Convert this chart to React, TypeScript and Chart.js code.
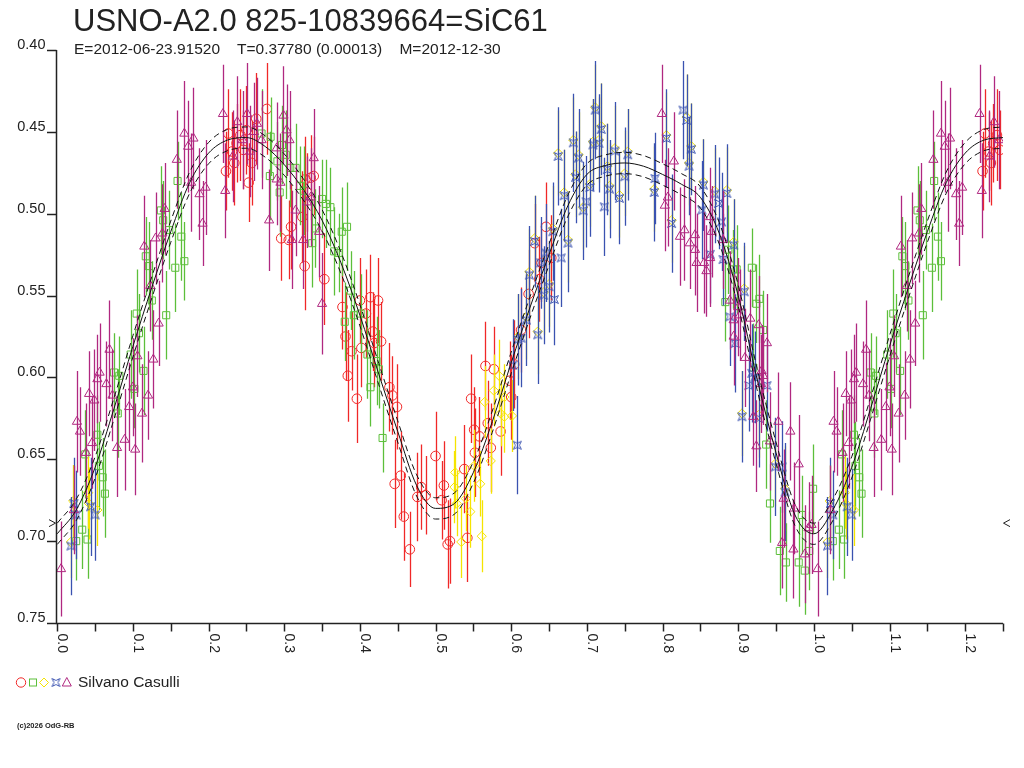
import { useEffect, useRef } from "react";
import { Chart, registerables } from "chart.js";

Chart.register(...registerables);

const TITLE = "USNO-A2.0 825-10839664=SiC61";
const SUBTITLE = "E=2012-06-23.91520    T=0.37780 (0.00013)    M=2012-12-30";
const OBSERVER = "Silvano Casulli";
const CREDIT = "(c)2026 OdG-RB";

const xTicks = [
  0, 0.05, 0.1, 0.15, 0.2, 0.25, 0.3, 0.35, 0.4, 0.45, 0.5, 0.55, 0.6, 0.65,
  0.7, 0.75, 0.8, 0.85, 0.9, 0.95, 1.0, 1.05, 1.1, 1.15, 1.2, 1.25,
];
const xLabelValues = [0, 0.1, 0.2, 0.3, 0.4, 0.5, 0.6, 0.7, 0.8, 0.9, 1.0, 1.1, 1.2];
const xLabelText = ["0.0", "0.1", "0.2", "0.3", "0.4", "0.5", "0.6", "0.7", "0.8", "0.9", "1.0", "1.1", "1.2"];
const yTicks = [0.4, 0.45, 0.5, 0.55, 0.6, 0.65, 0.7, 0.75];
const yLabelText = ["0.40", "0.45", "0.50", "0.55", "0.60", "0.65", "0.70", "0.75"];

// level marked with > and < on both sides of the plot
const REF_LEVEL = 0.689;

// phase, magnitude, error
type Obs = [number, number, number];

const redObs: Obs[] = [
  [0.223, 0.474, 0.024], [0.226, 0.451, 0.027], [0.231, 0.462, 0.024], [0.234, 0.469, 0.026],
  [0.237, 0.457, 0.024], [0.242, 0.452, 0.028], [0.246, 0.461, 0.024], [0.25, 0.449, 0.027],
  [0.253, 0.481, 0.024], [0.257, 0.469, 0.026], [0.263, 0.442, 0.028], [0.277, 0.436, 0.028],
  [0.296, 0.515, 0.026], [0.306, 0.516, 0.024], [0.309, 0.508, 0.026], [0.324, 0.502, 0.028],
  [0.327, 0.532, 0.027], [0.328, 0.479, 0.026], [0.33, 0.487, 0.024], [0.335, 0.478, 0.026],
  [0.339, 0.477, 0.024], [0.353, 0.54, 0.028], [0.377, 0.557, 0.026], [0.381, 0.575, 0.027],
  [0.384, 0.599, 0.028], [0.389, 0.584, 0.024], [0.396, 0.613, 0.027], [0.4, 0.553, 0.026],
  [0.402, 0.582, 0.024], [0.408, 0.561, 0.027], [0.414, 0.551, 0.026], [0.417, 0.572, 0.024],
  [0.419, 0.579, 0.027], [0.424, 0.553, 0.026], [0.428, 0.578, 0.024], [0.439, 0.606, 0.027],
  [0.443, 0.611, 0.024], [0.446, 0.665, 0.027], [0.449, 0.618, 0.026], [0.454, 0.66, 0.027],
  [0.458, 0.685, 0.027], [0.466, 0.705, 0.023], [0.476, 0.673, 0.027], [0.481, 0.667, 0.026],
  [0.487, 0.672, 0.024], [0.5, 0.648, 0.027], [0.508, 0.675, 0.024], [0.511, 0.666, 0.027],
  [0.516, 0.702, 0.027], [0.519, 0.7, 0.026], [0.538, 0.656, 0.027], [0.542, 0.698, 0.027],
  [0.547, 0.613, 0.027], [0.551, 0.632, 0.026], [0.552, 0.646, 0.027], [0.558, 0.636, 0.024],
  [0.566, 0.593, 0.027], [0.569, 0.628, 0.026], [0.573, 0.643, 0.027], [0.577, 0.595, 0.026],
  [0.586, 0.633, 0.027], [0.598, 0.602, 0.024], [0.6, 0.612, 0.026], [0.604, 0.592, 0.027],
  [0.613, 0.571, 0.026], [0.623, 0.549, 0.027], [0.631, 0.518, 0.024], [0.637, 0.54, 0.026],
  [0.64, 0.53, 0.024], [0.646, 0.508, 0.027], [0.653, 0.527, 0.026],
];

const greenObs: Obs[] = [
  [0.025, 0.7, 0.024], [0.033, 0.693, 0.024], [0.037, 0.647, 0.027], [0.04, 0.699, 0.024],
  [0.053, 0.635, 0.024], [0.055, 0.654, 0.027], [0.06, 0.661, 0.024], [0.063, 0.671, 0.027],
  [0.075, 0.597, 0.024], [0.08, 0.622, 0.027], [0.082, 0.599, 0.024], [0.097, 0.586, 0.027],
  [0.102, 0.607, 0.024], [0.105, 0.561, 0.027], [0.108, 0.573, 0.024], [0.114, 0.596, 0.027],
  [0.117, 0.526, 0.024], [0.121, 0.532, 0.027], [0.125, 0.553, 0.024], [0.137, 0.498, 0.027],
  [0.14, 0.504, 0.024], [0.144, 0.562, 0.027], [0.148, 0.51, 0.024], [0.156, 0.533, 0.027],
  [0.159, 0.48, 0.024], [0.164, 0.514, 0.027], [0.168, 0.529, 0.024],
  [0.27, 0.451, 0.027], [0.281, 0.477, 0.027], [0.282, 0.453, 0.024], [0.291, 0.468, 0.024],
  [0.294, 0.487, 0.027], [0.297, 0.458, 0.024], [0.302, 0.464, 0.027], [0.308, 0.472, 0.024],
  [0.315, 0.472, 0.027], [0.321, 0.483, 0.024], [0.326, 0.486, 0.027], [0.337, 0.518, 0.027],
  [0.341, 0.509, 0.024], [0.35, 0.491, 0.024], [0.355, 0.494, 0.027], [0.361, 0.496, 0.024],
  [0.366, 0.523, 0.027], [0.372, 0.524, 0.024], [0.376, 0.511, 0.027], [0.38, 0.566, 0.024],
  [0.383, 0.508, 0.027], [0.388, 0.547, 0.024], [0.392, 0.562, 0.027], [0.401, 0.561, 0.024],
  [0.41, 0.586, 0.027], [0.414, 0.606, 0.024], [0.422, 0.59, 0.027], [0.425, 0.595, 0.024],
  [0.43, 0.637, 0.021],
  [0.883, 0.554, 0.024], [0.887, 0.522, 0.027], [0.893, 0.534, 0.024], [0.898, 0.534, 0.027],
  [0.918, 0.533, 0.024], [0.92, 0.594, 0.027], [0.924, 0.555, 0.024], [0.928, 0.552, 0.027],
  [0.933, 0.571, 0.024], [0.937, 0.641, 0.027], [0.942, 0.677, 0.024], [0.955, 0.706, 0.027],
  [0.963, 0.713, 0.024], [0.98, 0.713, 0.027], [0.984, 0.684, 0.024], [0.988, 0.718, 0.027],
  [0.994, 0.706, 0.024], [0.999, 0.668, 0.027],
];

const yellowObs: Obs[] = [
  [0.018, 0.7005, 0.022], [0.021, 0.6755, 0.022], [0.041, 0.6704, 0.022], [0.042, 0.677, 0.022],
  [0.053, 0.681, 0.022],
  [0.525, 0.667, 0.022], [0.526, 0.658, 0.022], [0.528, 0.677, 0.02], [0.534, 0.7005, 0.022],
  [0.54, 0.674, 0.02], [0.546, 0.682, 0.022], [0.551, 0.654, 0.022], [0.559, 0.665, 0.02],
  [0.561, 0.697, 0.022], [0.565, 0.615, 0.022], [0.573, 0.651, 0.02], [0.577, 0.608, 0.022],
  [0.584, 0.599, 0.022], [0.586, 0.622, 0.02], [0.591, 0.624, 0.022], [0.591, 0.612, 0.02],
  [0.601, 0.6235, 0.022],
  [0.609, 0.575, 0.026], [0.62, 0.563, 0.026], [0.624, 0.5355, 0.026], [0.631, 0.515, 0.026],
  [0.635, 0.572, 0.026], [0.643, 0.548, 0.026], [0.65, 0.543, 0.026], [0.655, 0.509, 0.026],
  [0.662, 0.463, 0.026], [0.67, 0.487, 0.026], [0.675, 0.516, 0.026], [0.682, 0.455, 0.026],
  [0.685, 0.476, 0.026], [0.689, 0.464, 0.026], [0.695, 0.496, 0.026], [0.704, 0.482, 0.026],
  [0.708, 0.456, 0.026], [0.711, 0.435, 0.026], [0.716, 0.455, 0.026], [0.719, 0.4465, 0.026],
  [0.727, 0.471, 0.026], [0.73, 0.483, 0.026], [0.737, 0.46, 0.026], [0.743, 0.4886, 0.026],
  [0.75, 0.4754, 0.026], [0.754, 0.462, 0.026], [0.789, 0.485, 0.026], [0.805, 0.452, 0.026],
  [0.812, 0.504, 0.026], [0.832, 0.441, 0.026], [0.835, 0.469, 0.026], [0.838, 0.4587, 0.026],
  [0.854, 0.4805, 0.026], [0.869, 0.486, 0.026], [0.885, 0.4856, 0.026], [0.894, 0.5172, 0.026],
  [0.905, 0.622, 0.026], [0.908, 0.5457, 0.026], [0.927, 0.623, 0.026], [0.949, 0.6527, 0.026],
  [0.962, 0.668, 0.026],
];

const blueObs: Obs[] = [
  [0.018, 0.703, 0.03], [0.022, 0.677, 0.028], [0.025, 0.684, 0.027], [0.044, 0.679, 0.03],
  [0.05, 0.684, 0.028],
  [0.602, 0.5925, 0.028], [0.608, 0.6414, 0.03], [0.609, 0.577, 0.028], [0.613, 0.576, 0.03],
  [0.62, 0.565, 0.028], [0.624, 0.5375, 0.03], [0.631, 0.517, 0.028], [0.635, 0.574, 0.03],
  [0.639, 0.53, 0.028], [0.643, 0.5498, 0.03], [0.646, 0.524, 0.03], [0.65, 0.5446, 0.028],
  [0.655, 0.511, 0.03], [0.657, 0.5524, 0.028], [0.662, 0.465, 0.03], [0.666, 0.527, 0.03],
  [0.67, 0.489, 0.028], [0.675, 0.518, 0.03], [0.682, 0.4567, 0.03], [0.685, 0.4778, 0.028],
  [0.689, 0.466, 0.03], [0.695, 0.4982, 0.03], [0.699, 0.4927, 0.028], [0.704, 0.484, 0.03],
  [0.708, 0.458, 0.028], [0.711, 0.4367, 0.03], [0.716, 0.457, 0.03], [0.719, 0.4485, 0.028],
  [0.723, 0.4958, 0.03], [0.727, 0.473, 0.028], [0.73, 0.485, 0.03], [0.737, 0.4617, 0.03],
  [0.743, 0.4906, 0.028], [0.75, 0.4774, 0.03], [0.754, 0.464, 0.028], [0.789, 0.487, 0.03],
  [0.79, 0.4785, 0.028], [0.805, 0.454, 0.03], [0.812, 0.506, 0.03], [0.827, 0.4367, 0.03],
  [0.832, 0.443, 0.028], [0.835, 0.471, 0.03], [0.838, 0.4607, 0.028], [0.852, 0.4978, 0.03],
  [0.854, 0.4825, 0.028], [0.863, 0.5248, 0.03], [0.869, 0.488, 0.03], [0.874, 0.4937, 0.028],
  [0.878, 0.505, 0.03], [0.88, 0.528, 0.028], [0.885, 0.4876, 0.03], [0.889, 0.563, 0.03],
  [0.894, 0.5192, 0.028], [0.896, 0.5792, 0.03], [0.905, 0.624, 0.028], [0.908, 0.5477, 0.03],
  [0.914, 0.605, 0.028], [0.918, 0.5975, 0.03], [0.922, 0.6, 0.028], [0.927, 0.625, 0.03],
  [0.938, 0.605, 0.028], [0.949, 0.6547, 0.03], [0.958, 0.6547, 0.028], [0.962, 0.67, 0.03],
];

const purpleObs: Obs[] = [
  [0.005, 0.717, 0.029], [0.022, 0.681, 0.027], [0.026, 0.627, 0.031], [0.03, 0.633, 0.027],
  [0.038, 0.646, 0.03], [0.042, 0.61, 0.026], [0.046, 0.64, 0.028], [0.049, 0.614, 0.031],
  [0.053, 0.601, 0.027], [0.056, 0.597, 0.03], [0.065, 0.604, 0.026], [0.069, 0.583, 0.03],
  [0.073, 0.611, 0.028], [0.079, 0.643, 0.03], [0.089, 0.638, 0.031], [0.095, 0.618, 0.027],
  [0.1, 0.606, 0.03], [0.103, 0.644, 0.028], [0.106, 0.587, 0.025], [0.112, 0.622, 0.03],
  [0.115, 0.52, 0.031], [0.12, 0.611, 0.027], [0.123, 0.544, 0.028], [0.127, 0.589, 0.03],
  [0.13, 0.515, 0.028], [0.134, 0.567, 0.026], [0.139, 0.512, 0.03], [0.142, 0.497, 0.028],
  [0.158, 0.467, 0.03], [0.168, 0.451, 0.032], [0.173, 0.459, 0.028], [0.177, 0.481, 0.03],
  [0.18, 0.454, 0.031], [0.188, 0.488, 0.028], [0.192, 0.506, 0.026], [0.196, 0.484, 0.029],
  [0.219, 0.439, 0.03], [0.222, 0.486, 0.029], [0.232, 0.465, 0.028], [0.238, 0.444, 0.028],
  [0.245, 0.455, 0.03], [0.251, 0.439, 0.031], [0.255, 0.462, 0.028], [0.26, 0.45, 0.03],
  [0.264, 0.445, 0.028], [0.27, 0.455, 0.03], [0.28, 0.504, 0.031], [0.29, 0.46, 0.028],
  [0.29, 0.479, 0.028], [0.295, 0.481, 0.03], [0.299, 0.44, 0.03], [0.303, 0.449, 0.028],
  [0.307, 0.455, 0.03], [0.31, 0.516, 0.03], [0.315, 0.498, 0.028], [0.325, 0.516, 0.03],
  [0.33, 0.493, 0.028], [0.335, 0.49, 0.03], [0.339, 0.466, 0.03], [0.346, 0.511, 0.028],
  [0.35, 0.555, 0.031],
  [0.799, 0.439, 0.03], [0.803, 0.495, 0.028], [0.807, 0.49, 0.03], [0.815, 0.468, 0.03],
  [0.823, 0.514, 0.03], [0.829, 0.51, 0.031], [0.836, 0.518, 0.028], [0.843, 0.513, 0.03],
  [0.843, 0.522, 0.028], [0.845, 0.53, 0.03], [0.855, 0.53, 0.031], [0.858, 0.535, 0.028],
  [0.863, 0.527, 0.03], [0.863, 0.502, 0.03], [0.865, 0.511, 0.028], [0.88, 0.516, 0.03],
  [0.889, 0.553, 0.03], [0.894, 0.565, 0.028], [0.894, 0.575, 0.03], [0.9, 0.557, 0.03],
  [0.902, 0.562, 0.028], [0.909, 0.588, 0.03], [0.916, 0.564, 0.03], [0.92, 0.624, 0.03],
  [0.924, 0.642, 0.028], [0.927, 0.568, 0.03], [0.93, 0.604, 0.03], [0.931, 0.596, 0.028],
  [0.933, 0.599, 0.03], [0.938, 0.579, 0.03], [0.942, 0.639, 0.03], [0.953, 0.627, 0.03],
  [0.958, 0.701, 0.028], [0.96, 0.674, 0.03], [0.969, 0.633, 0.03], [0.973, 0.705, 0.03],
  [0.974, 0.68, 0.028], [0.98, 0.653, 0.03], [0.988, 0.708, 0.03], [0.993, 0.692, 0.028],
  [0.997, 0.69, 0.03],
];

// fitted light curve over one cycle
const fitPhase = [
  0, 0.025, 0.05, 0.075, 0.1, 0.125, 0.15, 0.175, 0.2, 0.225, 0.25, 0.275, 0.3, 0.325,
  0.35, 0.375, 0.4, 0.425, 0.45, 0.475, 0.5, 0.525, 0.55, 0.575, 0.6, 0.625, 0.65, 0.675,
  0.7, 0.725, 0.75, 0.775, 0.8, 0.825, 0.85, 0.875, 0.9, 0.925, 0.95, 0.975, 1.0,
];
const fitMag = [
  0.6955, 0.681, 0.655, 0.619, 0.581, 0.545, 0.511, 0.481, 0.463, 0.455, 0.4535, 0.459, 0.47, 0.485,
  0.504, 0.53, 0.562, 0.598, 0.633, 0.666, 0.68, 0.677, 0.658, 0.627, 0.591, 0.557, 0.525, 0.495,
  0.476, 0.4705, 0.469, 0.471, 0.476, 0.482, 0.49, 0.512, 0.55, 0.601, 0.646, 0.684, 0.6955,
];
const FIT_BAND = 0.0065;

// the first quarter of the cycle is shown again after phase 1
const REPEAT_TO = 0.25;

const RED = "#f02828";
const GREEN = "#5cbf3a";
const YELLOW = "#f5e400";
const BLUE = "#3a52b0";
const PURPLE = "#b02880";
const INK = "#222";

function repeatCycle(obs: Obs[]): Obs[] {
  const extra = obs.filter((o) => o[0] < REPEAT_TO).map((o) => [o[0] + 1, o[1], o[2]] as Obs);
  return [...obs, ...extra];
}

function fitPoints(offset: number) {
  const pts = fitPhase.map((p, i) => ({ x: p, y: fitMag[i] + offset }));
  fitPhase.forEach((p, i) => {
    if (p > 0 && p <= REPEAT_TO) pts.push({ x: p + 1, y: fitMag[i] + offset });
  });
  return pts;
}

function makeStar(color: string) {
  const c = document.createElement("canvas");
  c.width = 11;
  c.height = 11;
  const g = c.getContext("2d")!;
  g.strokeStyle = color;
  g.lineWidth = 1;
  g.beginPath();
  g.moveTo(1.5, 1.5);
  g.lineTo(5.5, 3.5);
  g.lineTo(9.5, 1.5);
  g.lineTo(7.5, 5.5);
  g.lineTo(9.5, 9.5);
  g.lineTo(5.5, 7.5);
  g.lineTo(1.5, 9.5);
  g.lineTo(3.5, 5.5);
  g.closePath();
  g.stroke();
  return c;
}

function obsDataset(obs: Obs[], color: string, pointStyle: any, radius: number) {
  const all = repeatCycle(obs);
  return {
    data: all.map((o) => ({ x: o[0], y: o[1] })),
    errors: all.map((o) => o[2]),
    showLine: false,
    pointStyle,
    pointRadius: radius,
    pointBorderWidth: 1,
    pointBorderColor: color,
    pointBackgroundColor: "rgba(0,0,0,0)",
    borderColor: color,
    backgroundColor: "rgba(0,0,0,0)",
  };
}

const errorBars = {
  id: "errorBars",
  beforeDatasetDraw(chart: any, args: any) {
    const ds = chart.data.datasets[args.index];
    if (!ds.errors) return;
    const { ctx, chartArea } = chart;
    const xs = chart.scales.x;
    const ys = chart.scales.y;
    ctx.save();
    ctx.beginPath();
    ctx.rect(chartArea.left, chartArea.top, chartArea.right - chartArea.left, chartArea.bottom - chartArea.top);
    ctx.clip();
    ctx.strokeStyle = ds.borderColor;
    ctx.lineWidth = 1.3;
    ctx.beginPath();
    ds.data.forEach((p: any, i: number) => {
      const px = Math.round(xs.getPixelForValue(p.x)) + 0.5;
      ctx.moveTo(px, ys.getPixelForValue(p.y - ds.errors[i]));
      ctx.lineTo(px, ys.getPixelForValue(p.y + ds.errors[i]));
    });
    ctx.stroke();
    ctx.restore();
  },
};

function axesAndKey(star: HTMLCanvasElement) {
  return {
    id: "axesAndKey",
    afterDraw(chart: any) {
      const { ctx, chartArea } = chart;
      const xs = chart.scales.x;
      const ys = chart.scales.y;
      const left = 56.5;
      const bottom = Math.round(chartArea.bottom) + 0.5;
      ctx.save();
      ctx.strokeStyle = INK;
      ctx.fillStyle = INK;
      ctx.lineWidth = 1.5;

      ctx.beginPath();
      ctx.moveTo(left, ys.getPixelForValue(0.4));
      ctx.lineTo(left, bottom);
      ctx.lineTo(xs.getPixelForValue(1.25), bottom);
      ctx.stroke();

      ctx.font = "14.5px 'Liberation Sans', Arial, sans-serif";
      ctx.textAlign = "right";
      ctx.textBaseline = "alphabetic";
      yTicks.forEach((v, i) => {
        const py = Math.round(ys.getPixelForValue(v)) + 0.5;
        ctx.beginPath();
        ctx.moveTo(47, py);
        ctx.lineTo(left, py);
        ctx.stroke();
        ctx.fillText(yLabelText[i], 45.5, py - 1.5);
      });

      xTicks.forEach((v) => {
        const px = Math.round(xs.getPixelForValue(v)) + 0.5;
        ctx.beginPath();
        ctx.moveTo(px, bottom);
        ctx.lineTo(px, bottom + 8);
        ctx.stroke();
      });

      ctx.font = "14px 'Liberation Sans', Arial, sans-serif";
      ctx.textAlign = "left";
      xLabelValues.forEach((v, i) => {
        const px = Math.round(xs.getPixelForValue(v)) + 0.5;
        ctx.save();
        ctx.translate(px, bottom + 10);
        ctx.rotate(Math.PI / 2);
        ctx.fillText(xLabelText[i], 0, 0);
        ctx.restore();
      });

      // reference level arrows
      const ry = ys.getPixelForValue(REF_LEVEL);
      const right = xs.getPixelForValue(1.25);
      ctx.lineWidth = 1;
      ctx.beginPath();
      ctx.moveTo(49, ry - 3.5);
      ctx.lineTo(55.5, ry);
      ctx.lineTo(49, ry + 3.5);
      ctx.moveTo(right + 7, ry - 3.5);
      ctx.lineTo(right + 0.5, ry);
      ctx.lineTo(right + 7, ry + 3.5);
      ctx.stroke();

      // key symbols
      const ky = 682.5;
      ctx.lineWidth = 1;
      ctx.strokeStyle = RED;
      ctx.beginPath();
      ctx.arc(21, ky, 4.7, 0, Math.PI * 2);
      ctx.stroke();
      ctx.strokeStyle = GREEN;
      ctx.strokeRect(29.5, ky - 3.5, 7, 7);
      ctx.strokeStyle = YELLOW;
      ctx.beginPath();
      ctx.moveTo(44, ky - 4.5);
      ctx.lineTo(48.5, ky);
      ctx.lineTo(44, ky + 4.5);
      ctx.lineTo(39.5, ky);
      ctx.closePath();
      ctx.stroke();
      ctx.drawImage(star, 50.5, ky - 5.5);
      ctx.strokeStyle = PURPLE;
      ctx.beginPath();
      ctx.moveTo(66.8, ky - 5);
      ctx.lineTo(71.3, ky + 3.5);
      ctx.lineTo(62.3, ky + 3.5);
      ctx.closePath();
      ctx.stroke();
      ctx.restore();
    },
  };
}

const textStyle = {
  position: "absolute" as const,
  fontFamily: "'Liberation Sans', Arial, sans-serif",
  color: INK,
  lineHeight: 1,
  whiteSpace: "pre" as const,
  margin: 0,
};

export default function App() {
  const chartRef = useRef<HTMLCanvasElement>(null);

  useEffect(() => {
    if (!chartRef.current) return;
    const ctx = chartRef.current.getContext("2d");
    if (!ctx) return;
    const star = makeStar(BLUE);

    const chart = new Chart(ctx, {
      type: "scatter",
      data: {
        datasets: [
          {
            data: fitPoints(0),
            showLine: true,
            borderColor: "#111",
            borderWidth: 1,
            pointRadius: 0,
            cubicInterpolationMode: "monotone",
          },
          {
            data: fitPoints(-FIT_BAND),
            showLine: true,
            borderColor: "#111",
            borderWidth: 1,
            borderDash: [6, 4],
            pointRadius: 0,
            cubicInterpolationMode: "monotone",
          },
          {
            data: fitPoints(FIT_BAND),
            showLine: true,
            borderColor: "#111",
            borderWidth: 1,
            borderDash: [6, 4],
            pointRadius: 0,
            cubicInterpolationMode: "monotone",
          },
          obsDataset(purpleObs, PURPLE, "triangle", 5.3),
          obsDataset(blueObs, BLUE, star, 5),
          obsDataset(yellowObs, YELLOW, "rectRot", 4.6),
          obsDataset(greenObs, GREEN, "rect", 5),
          obsDataset(redObs, RED, "circle", 4.8),
        ] as any,
      },
      options: {
        animation: false,
        responsive: true,
        maintainAspectRatio: false,
        events: [],
        layout: { padding: { left: 56.5, top: 50, right: 21, bottom: 145 } },
        plugins: {
          legend: { display: false },
          tooltip: { enabled: false },
        },
        scales: {
          x: { type: "linear", display: false, min: -0.001, max: 1.25 },
          y: { type: "linear", display: false, min: 0.4, max: 0.75, reverse: true },
        },
      },
      plugins: [errorBars, axesAndKey(star)],
    });

    return () => {
      chart.destroy();
    };
  }, []);

  return (
    <div style={{ position: "fixed", left: 0, top: 0, width: 1024, height: 768, background: "#fff" }}>
      <div style={{ position: "absolute", left: 0, top: 0, width: 1024, height: 768 }}>
        <canvas ref={chartRef} />
      </div>
      <div style={{ ...textStyle, left: 73, top: 5, fontSize: 31 }}>{TITLE}</div>
      <div style={{ ...textStyle, left: 74, top: 41, fontSize: 15.5 }}>{SUBTITLE}</div>
      <div style={{ ...textStyle, left: 78, top: 674.2, fontSize: 15.5 }}>{OBSERVER}</div>
      <div style={{ ...textStyle, left: 17, top: 722, fontSize: 7.5, fontWeight: "bold" }}>{CREDIT}</div>
    </div>
  );
}
